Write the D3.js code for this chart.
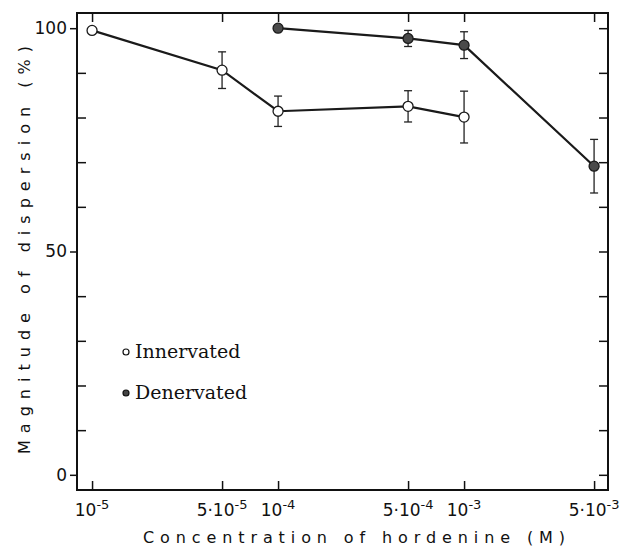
<!DOCTYPE html>
<html>
<head>
<meta charset="utf-8">
<script src="https://cdn.jsdelivr.net/npm/d3@7"></script>
<style>
  body { margin: 0; background: #fff; }
  svg { display: block; }
</style>
</head>
<body>
<div id="chart"></div>
<script>
// concentrations (M) and the two series
const concInnervated = [1e-5, 5e-5, 1e-4, 5e-4, 1e-3];
const innervated = [99.5, 90.6, 81.4, 82.5, 80.1];
const innervatedErr = [0, 4.1, 3.4, 3.5, 5.8];

const concDenervated = [1e-4, 5e-4, 1e-3, 5e-3];
const denervated = [100, 97.7, 96.2, 69.1];
const denervatedErr = [0, 1.8, 3.0, 6.0];

const xTickValues = [1e-5, 5e-5, 1e-4, 5e-4, 1e-3, 5e-3];
const xTickMant = ["", "5\u00b7", "", "5\u00b7", "", "5\u00b7"];
const xTickExp = ["-5", "-5", "-4", "-4", "-3", "-3"];
const yMajor = [0, 50, 100];
const yMinor = [10, 20, 30, 40, 60, 70, 80, 90];
const yAll = [0, 10, 20, 30, 40, 50, 60, 70, 80, 90, 100];

const W = 620, H = 547;
const frame = { left: 77, right: 608, top: 13, bottom: 490 };

const svg = d3.select("#chart").append("svg")
  .attr("width", W)
  .attr("height", H);

const x = d3.scaleLog()
  .domain([8.3e-6, 5.94e-3])
  .range([frame.left, frame.right]);

const y = d3.scaleLinear()
  .domain([-3.4, 103.4])
  .range([frame.bottom, frame.top]);

// frame
svg.append("rect")
  .attr("x", frame.left)
  .attr("y", frame.top)
  .attr("width", frame.right - frame.left)
  .attr("height", frame.bottom - frame.top)
  .attr("fill", "none")
  .attr("stroke", "#111")
  .attr("stroke-width", 2);

// bottom ticks (inward), labels drawn by hand for superscripts
svg.append("g")
  .attr("transform", `translate(0,${frame.bottom})`)
  .call(d3.axisBottom(x).tickValues(xTickValues).tickSize(-9).tickFormat(""))
  .call(g => g.select(".domain").remove())
  .call(g => g.selectAll("line").attr("stroke", "#111").attr("stroke-width", 1.5));

// top ticks (inward)
svg.append("g")
  .attr("transform", `translate(0,${frame.top})`)
  .call(d3.axisTop(x).tickValues(xTickValues).tickSize(-9).tickFormat(""))
  .call(g => g.select(".domain").remove())
  .call(g => g.selectAll("line").attr("stroke", "#111").attr("stroke-width", 1.5));

const xLabels = svg.append("g")
  .attr("font-family", "DejaVu Sans, sans-serif")
  .attr("font-size", 17)
  .attr("fill", "#111");

xTickValues.forEach((v, i) => {
  const t = xLabels.append("text")
    .attr("x", x(v))
    .attr("y", 516)
    .attr("text-anchor", "middle");
  t.append("tspan").text(xTickMant[i] + "10");
  t.append("tspan")
    .attr("dy", -7)
    .attr("font-size", 13)
    .text(xTickExp[i]);
});

// left axis: major ticks outward with labels, minor inward
svg.append("g")
  .attr("transform", `translate(${frame.left},0)`)
  .call(d3.axisLeft(y).tickValues(yMajor).tickSize(7).tickPadding(3))
  .call(g => g.select(".domain").remove())
  .call(g => g.selectAll("line").attr("stroke", "#111").attr("stroke-width", 1.5))
  .call(g => g.selectAll("text")
    .attr("font-family", "DejaVu Sans, sans-serif")
    .attr("font-size", 17)
    .attr("fill", "#111"));

svg.append("g")
  .attr("transform", `translate(${frame.left},0)`)
  .call(d3.axisLeft(y).tickValues(yMinor).tickSize(-9).tickFormat(""))
  .call(g => g.select(".domain").remove())
  .call(g => g.selectAll("line").attr("stroke", "#111").attr("stroke-width", 1.5));

// right axis, inward ticks
svg.append("g")
  .attr("transform", `translate(${frame.right},0)`)
  .call(d3.axisRight(y).tickValues(yAll).tickSize(-9).tickFormat(""))
  .call(g => g.select(".domain").remove())
  .call(g => g.selectAll("line").attr("stroke", "#111").attr("stroke-width", 1.5));

// axis titles
svg.append("text")
  .attr("x", 354)
  .attr("y", 543)
  .attr("text-anchor", "middle")
  .attr("font-family", "DejaVu Sans, sans-serif")
  .attr("font-size", 16)
  .attr("textLength", 422)
  .attr("lengthAdjust", "spacing")
  .attr("fill", "#111")
  .text("Concentration of hordenine (M)");

svg.append("text")
  .attr("transform", "translate(30,250) rotate(-90)")
  .attr("text-anchor", "middle")
  .attr("font-family", "DejaVu Sans, sans-serif")
  .attr("font-size", 16)
  .attr("textLength", 408)
  .attr("lengthAdjust", "spacing")
  .attr("fill", "#111")
  .text("Magnitude of dispersion (%)");

// series drawing
function drawSeries(xs, ys, errs, fill) {
  const pts = xs.map((c, i) => ({ c: c, v: ys[i], e: errs[i] }));
  const line = d3.line().x(d => x(d.c)).y(d => y(d.v));

  svg.append("path")
    .datum(pts)
    .attr("d", line)
    .attr("fill", "none")
    .attr("stroke", "#1a1a1a")
    .attr("stroke-width", 2.2);

  const eb = svg.append("g")
    .attr("stroke", "#222")
    .attr("stroke-width", 1.3);

  pts.filter(d => d.e > 0).forEach(d => {
    const cx = x(d.c);
    eb.append("line")
      .attr("x1", cx).attr("x2", cx)
      .attr("y1", y(d.v + d.e)).attr("y2", y(d.v - d.e));
    eb.append("line")
      .attr("x1", cx - 4).attr("x2", cx + 4)
      .attr("y1", y(d.v + d.e)).attr("y2", y(d.v + d.e));
    eb.append("line")
      .attr("x1", cx - 4).attr("x2", cx + 4)
      .attr("y1", y(d.v - d.e)).attr("y2", y(d.v - d.e));
  });

  svg.append("g")
    .selectAll("circle")
    .data(pts)
    .enter()
    .append("circle")
    .attr("cx", d => x(d.c))
    .attr("cy", d => y(d.v))
    .attr("r", 5)
    .attr("fill", fill)
    .attr("stroke", "#1a1a1a")
    .attr("stroke-width", 1.3);
}

drawSeries(concInnervated, innervated, innervatedErr, "#fff");
drawSeries(concDenervated, denervated, denervatedErr, "#4a4a4a");

// legend
const legend = svg.append("g")
  .attr("font-family", "DejaVu Serif, serif")
  .attr("font-size", 19)
  .attr("fill", "#111");

legend.append("circle")
  .attr("cx", 126).attr("cy", 352).attr("r", 3)
  .attr("fill", "#fff").attr("stroke", "#111").attr("stroke-width", 1.2);
legend.append("text")
  .attr("x", 135).attr("y", 358)
  .text("Innervated");

legend.append("circle")
  .attr("cx", 126).attr("cy", 393).attr("r", 3)
  .attr("fill", "#444").attr("stroke", "#111").attr("stroke-width", 1.2);
legend.append("text")
  .attr("x", 135).attr("y", 399)
  .text("Denervated");
</script>
</body>
</html>
